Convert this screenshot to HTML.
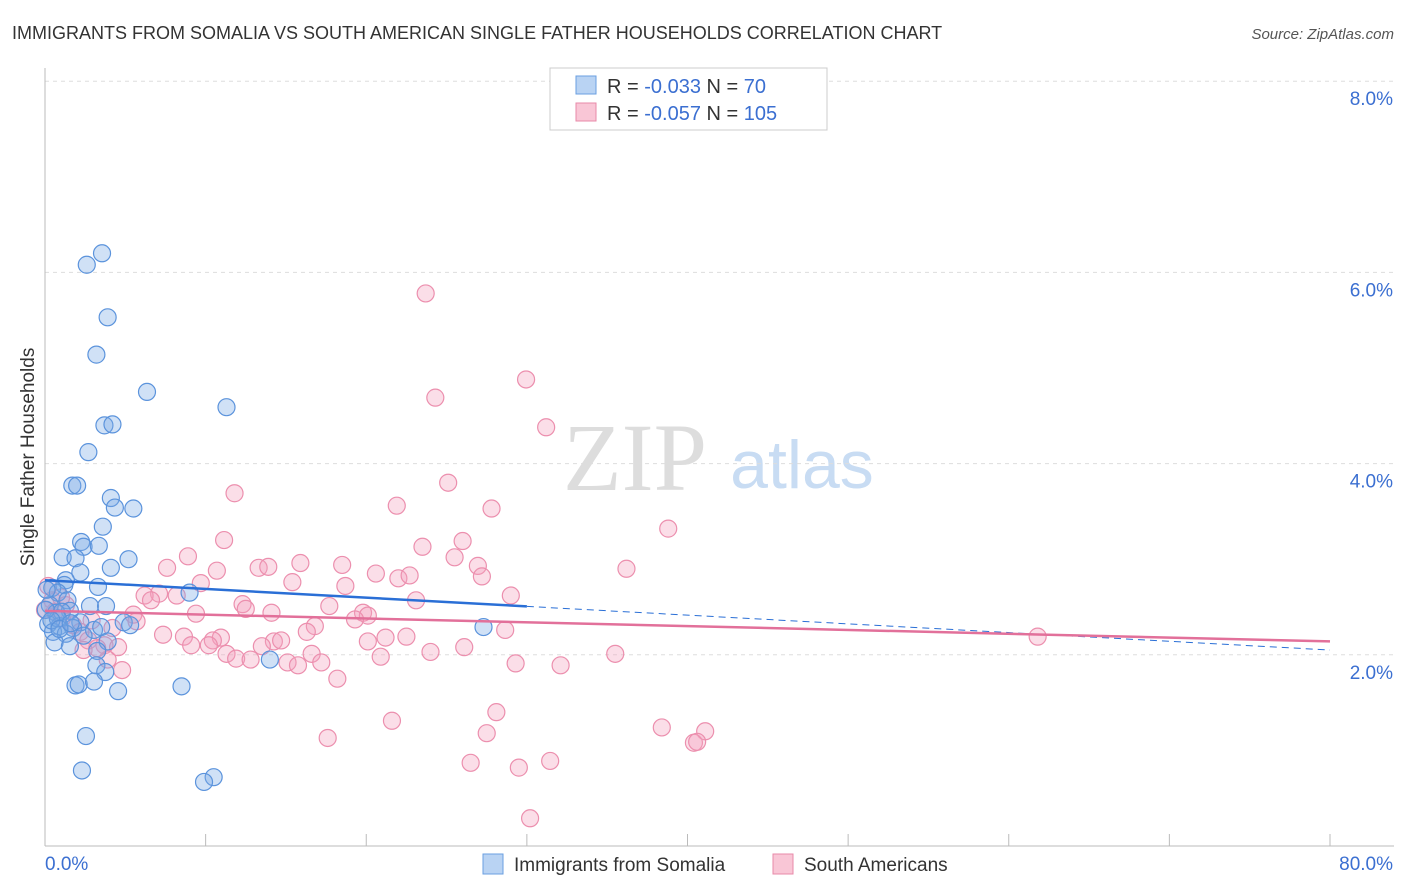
<!DOCTYPE html>
<html><head><meta charset="utf-8"><style>
body{margin:0;background:#fff;font-family:"Liberation Sans",sans-serif;}
</style></head><body>
<svg id="chart" width="1406" height="892" style="display:block">
<text x="12" y="39" font-size="18" fill="#333">IMMIGRANTS FROM SOMALIA VS SOUTH AMERICAN SINGLE FATHER HOUSEHOLDS CORRELATION CHART</text>
<text x="1394" y="39" font-size="15" fill="#555" font-style="italic" text-anchor="end">Source: ZipAtlas.com</text>
<text x="34" y="457" font-size="19" fill="#333" text-anchor="middle" transform="rotate(-90 34 457)">Single Father Households</text>
<g><text x="635" y="490" font-size="96" font-family="Liberation Serif" fill="#ddd" text-anchor="middle">ZIP</text><text x="802" y="488" font-size="68" fill="#c8dcf3" text-anchor="middle">atlas</text></g>
<g id="grid"></g><g id="axes"></g><g id="pts"></g><g id="trend"></g>
<g>
<rect x="550" y="68" width="277" height="62" fill="#fff" stroke="#ccc"/>
<rect x="576" y="76" width="20" height="18" fill="#b9d3f3" stroke="#6a9fe0"/>
<rect x="576" y="103" width="20" height="18" fill="#f9c6d6" stroke="#e88aa8"/>
<text x="607" y="93" font-size="20" fill="#333">R = <tspan fill="#3b6fd1">-0.033</tspan>   N =  <tspan fill="#3b6fd1"> 70</tspan></text>
<text x="607" y="120" font-size="20" fill="#333">R = <tspan fill="#3b6fd1">-0.057</tspan>   N = <tspan fill="#3b6fd1">105</tspan></text>
</g>
<g>
<rect x="483" y="854" width="20" height="20" fill="#b9d3f3" stroke="#6a9fe0"/>
<text x="514" y="871" font-size="19" fill="#333">Immigrants from Somalia</text>
<rect x="773" y="854" width="20" height="20" fill="#f9c6d6" stroke="#e88aa8"/>
<text x="804" y="871" font-size="19" fill="#333">South Americans</text>
</g>
</svg>
<script>
const yTicks=[2,4,6,8];
const yTickLabels=["2.0%","4.0%","6.0%","8.0%"];
const xTickLabels=["0.0%","80.0%"];
const somaliaX=[3.55,2.6,3.9,3.2,6.35,11.3,3.7,4.2,2.7,1.7,2.0,4.1,4.35,5.5,3.6,2.25,2.4,3.35,1.1,1.9,5.2,4.1,2.2,1.3,1.2,0.45,3.3,9.0,0.8,1.4,0.3,2.8,3.8,1.55,0.7,27.3,2.2,4.9,0.2,0.9,1.75,3.05,3.5,5.3,0.5,1.3,2.4,0.6,3.9,1.55,3.25,14.0,3.2,3.75,1.9,2.1,3.05,4.55,8.5,2.55,2.3,10.5,9.9,0.1,1.05,0.8,0.05,0.4,0.9,1.6];
const somaliaY=[6.20,6.08,5.53,5.14,4.75,4.59,4.40,4.41,4.12,3.77,3.77,3.64,3.54,3.53,3.34,3.18,3.13,3.14,3.02,3.01,3.00,2.91,2.86,2.78,2.73,2.70,2.71,2.65,2.65,2.57,2.52,2.51,2.51,2.46,2.44,2.29,2.34,2.34,2.32,2.30,2.28,2.26,2.29,2.31,2.24,2.22,2.20,2.13,2.14,2.09,2.04,1.95,1.89,1.82,1.68,1.69,1.72,1.62,1.67,1.15,0.79,0.72,0.67,2.68,2.45,2.38,2.47,2.36,2.27,2.33];
const southX=[23.7,29.95,24.3,31.2,11.8,25.1,21.9,27.8,38.8,11.15,26.0,23.5,8.9,25.5,15.9,18.5,26.95,7.6,13.3,13.9,36.2,10.7,20.6,22.0,22.7,27.2,15.4,18.7,9.7,7.1,6.2,8.2,29.0,23.1,6.6,12.3,17.7,12.5,19.8,20.1,9.4,14.1,5.5,19.3,5.7,16.8,28.65,16.3,7.35,10.95,22.5,8.65,21.2,10.45,61.8,20.1,14.25,14.7,9.1,10.2,13.5,26.1,24.0,16.6,11.3,35.5,11.9,20.9,12.8,15.1,15.75,17.2,29.3,32.1,18.2,21.6,28.1,27.5,38.4,41.1,17.6,40.4,40.6,26.5,29.5,31.45,30.2,0.2,0.45,0.6,1.05,1.3,1.75,2.2,2.7,2.9,3.7,4.2,4.8,3.9,3.25,4.55,2.4,0,1.0];
const southY=[5.78,4.88,4.69,4.38,3.69,3.80,3.56,3.53,3.32,3.20,3.19,3.13,3.03,3.02,2.96,2.94,2.93,2.91,2.91,2.92,2.90,2.88,2.85,2.80,2.83,2.82,2.76,2.72,2.75,2.64,2.62,2.62,2.62,2.57,2.57,2.53,2.51,2.48,2.44,2.41,2.43,2.44,2.42,2.37,2.35,2.30,2.26,2.24,2.21,2.18,2.19,2.19,2.18,2.15,2.19,2.14,2.14,2.15,2.10,2.10,2.09,2.08,2.03,2.01,2.01,2.01,1.96,1.98,1.95,1.92,1.89,1.92,1.91,1.89,1.75,1.31,1.40,1.18,1.24,1.20,1.13,1.08,1.09,0.87,0.82,0.89,0.29,2.72,2.57,2.45,2.38,2.52,2.31,2.24,2.15,2.36,2.10,2.28,1.84,1.95,2.07,2.08,2.05,2.47,2.6];
const somaliaTrend=[2.78,2.05];
const southTrend=[2.46,2.14];
const NS="http://www.w3.org/2000/svg";
const X0=45,X1=1330,Y0=846,PY=95.6;
const sx=v=>X0+(v/80)*(X1-X0);
const sy=v=>Y0-v*PY;
function mk(tag,attrs,parent){const e=document.createElementNS(NS,tag);for(const k in attrs)e.setAttribute(k,attrs[k]);document.getElementById(parent).appendChild(e);return e;}
yTicks.forEach((t,i)=>{
  const l=mk('line',{x1:X0,x2:1394,y1:sy(t),y2:sy(t),stroke:'#ddd','stroke-dasharray':'4,4'},'grid');
  
  
  const tx=mk('text',{x:1393,y:sy(t)+24,'font-size':19,fill:'#3b6fd1','text-anchor':'end'},'grid');
  tx.textContent=yTickLabels[i];
  
  
});
const ax=mk('line',{x1:X0,x2:X0,y1:68,y2:Y0,stroke:'#bbb'},'axes');


const bx=mk('line',{x1:X0,x2:1394,y1:Y0,y2:Y0,stroke:'#bbb'},'axes');


for(let v=10;v<=80;v+=10){const t=mk('line',{x1:sx(v),x2:sx(v),y1:Y0,y2:Y0-12,stroke:'#bbb'},'axes');

}
[0,80].forEach((v,i)=>{const t=mk('text',{x:i?1393:45,y:870,'font-size':19,fill:'#3b6fd1','text-anchor':i?'end':'start'},'axes');t.textContent=xTickLabels[i];

});
southX.forEach((x,i)=>{const c=mk('circle',{cx:sx(x),cy:sy(southY[i]),r:8.5,fill:'rgba(244,160,188,0.35)',stroke:'#ec8fae','stroke-width':1.2},'pts');

});
somaliaX.forEach((x,i)=>{const c=mk('circle',{cx:sx(x),cy:sy(somaliaY[i]),r:8.5,fill:'rgba(120,170,230,0.35)',stroke:'#5b93dc','stroke-width':1.2},'pts');

});
const bAt=v=>somaliaTrend[0]+(somaliaTrend[1]-somaliaTrend[0])*v/80;
const l1=mk('line',{x1:sx(0),y1:sy(bAt(0)),x2:sx(30),y2:sy(bAt(30)),stroke:'#2a6fd6','stroke-width':2.5},'trend');


const l2=mk('line',{x1:sx(30),y1:sy(bAt(30)),x2:sx(80),y2:sy(bAt(80)),stroke:'#2a6fd6','stroke-width':1,'stroke-dasharray':'7,5'},'trend');


const l3=mk('line',{x1:sx(0),y1:sy(southTrend[0]),x2:sx(80),y2:sy(southTrend[1]),stroke:'#e2709a','stroke-width':2.5},'trend');


</script>
</body></html>
